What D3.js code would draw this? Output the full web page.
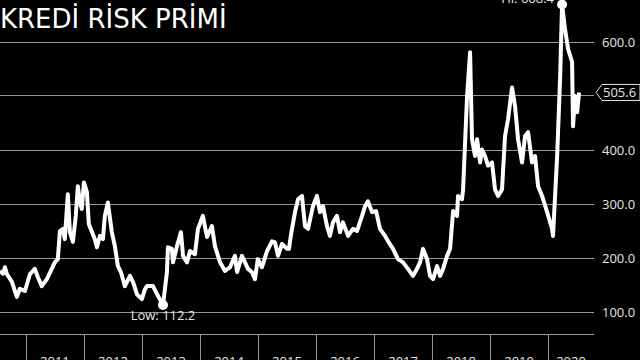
<!DOCTYPE html>
<html>
<head>
<meta charset="utf-8">
<script src="https://cdn.jsdelivr.net/npm/d3@7"></script>
<style>
  body { margin: 0; background: #000; }
  svg { display: block; }
</style>
</head>
<body>
<div id="chart"></div>
<script>
let title = "KREDİ RİSK PRİMİ"

let dates = [
  "2010-07-22", "2010-08-10", "2010-08-22", "2010-09-04", "2010-10-05", "2010-11-05", "2010-11-24", "2010-12-26",
  "2011-01-26", "2011-02-26", "2011-03-17", "2011-04-11", "2011-05-13", "2011-06-13", "2011-07-02", "2011-07-21",
  "2011-08-03", "2011-08-22", "2011-09-03", "2011-09-22", "2011-10-05", "2011-10-24", "2011-11-11", "2011-11-24",
  "2011-12-07", "2011-12-19", "2012-01-01", "2012-01-20", "2012-02-01", "2012-03-10", "2012-03-23", "2012-04-11",
  "2012-04-30", "2012-05-12", "2012-05-31", "2012-06-25", "2012-07-14", "2012-08-02", "2012-08-21", "2012-09-15",
  "2012-10-17", "2012-11-05", "2012-11-30", "2012-12-31", "2013-01-19", "2013-02-01", "2013-03-11", "2013-04-11",
  "2013-05-13", "2013-06-07", "2013-06-13", "2013-07-08", "2013-07-15", "2013-08-09", "2013-09-03", "2013-09-16",
  "2013-10-11", "2013-10-30", "2013-11-30", "2013-12-19", "2014-01-19", "2014-02-14", "2014-03-17", "2014-04-05",
  "2014-05-07", "2014-06-07", "2014-07-09", "2014-08-09", "2014-08-22", "2014-09-22", "2014-10-11", "2014-10-30",
  "2014-11-24", "2014-12-13", "2014-12-31", "2015-01-26", "2015-02-27", "2015-03-30", "2015-04-18", "2015-05-07",
  "2015-06-01", "2015-07-03", "2015-07-15", "2015-07-28", "2015-08-22", "2015-09-10", "2015-10-05", "2015-10-24",
  "2015-11-12", "2015-12-13", "2016-01-07", "2016-01-26", "2016-02-14", "2016-03-10", "2016-03-29", "2016-04-17",
  "2016-05-12", "2016-05-31", "2016-06-19", "2016-07-21", "2016-08-21", "2016-09-15", "2016-10-17", "2016-11-05",
  "2016-11-23", "2016-12-19", "2017-01-13", "2017-02-07", "2017-03-11", "2017-03-30", "2017-04-30", "2017-05-31",
  "2017-07-02", "2017-08-02", "2017-09-03", "2017-09-28", "2017-10-17", "2017-11-05", "2017-11-30", "2017-12-19",
  "2018-01-07", "2018-02-01", "2018-02-20", "2018-03-11", "2018-04-05", "2018-04-24", "2018-05-13", "2018-06-07",
  "2018-06-13", "2018-07-08", "2018-07-15", "2018-08-09", "2018-08-28", "2018-09-09", "2018-09-28", "2018-10-11",
  "2018-10-30", "2018-11-11", "2018-11-30", "2018-12-19", "2019-01-13", "2019-02-01", "2019-02-20", "2019-03-17",
  "2019-04-05", "2019-04-24", "2019-05-19", "2019-06-07", "2019-06-26", "2019-07-21", "2019-08-09", "2019-08-28",
  "2019-09-22", "2019-10-11", "2019-10-30", "2019-11-24", "2019-12-26", "2020-01-26", "2020-02-01", "2020-02-27",
  "2020-03-17", "2020-03-29", "2020-04-17", "2020-05-06", "2020-05-31", "2020-06-06", "2020-06-19", "2020-07-02",
  "2020-07-14"
]

let values = [
  175, 170, 182, 169, 155, 127, 142, 138,
  169, 179, 164, 147, 160, 179, 191, 197,
  249, 253, 234, 317, 247, 229, 277, 332,
  302, 290, 339, 321, 262, 234, 219, 240,
  234, 277, 302, 247, 221, 184, 173, 147,
  166, 155, 132, 123, 141, 147, 147, 129,
  112.2, 173, 219, 216, 191, 221, 247, 203,
  191, 212, 206, 253, 277, 238, 258, 221,
  191, 175, 182, 203, 173, 203, 191, 179,
  173, 160, 197, 182, 212, 230, 228, 203,
  225, 216, 216, 243, 284, 308, 314, 258,
  253, 295, 314, 284, 295, 258, 240, 265,
  277, 247, 265, 240, 253, 249, 277, 295,
  304, 284, 286, 253, 240, 230, 216, 197,
  191, 179, 166, 179, 191, 216, 197, 166,
  160, 184, 166, 179, 203, 216, 286, 277,
  314, 308, 326, 499, 580, 419, 388, 419,
  376, 400, 388, 370, 376, 326, 314, 326,
  425, 456, 515, 480, 419, 376, 425, 432,
  376, 388, 332, 314, 284, 253, 240, 388,
  536, 668.4, 622, 586, 562, 443, 499, 469,
  505.6
]

let yTicks = [100, 200, 300, 400, 500, 600]
let lowLabel = "Low: 112.2"
let highLabel = "Hi: 668.4"
let lastLabel = "505.6"

let width = 640
let height = 360

let parse = d3.timeParse("%Y-%m-%d")
let data = dates.map((d, i) => ({date: parse(d), value: values[i]}))

let svg = d3.select("#chart")
    .append("svg")
    .attr("width", width)
    .attr("height", height)
    .style("background", "#000")

let x = d3.scaleTime()
    .domain([parse("2010-07-22"), parse("2020-10-16")])
    .range([0, 594])

let y = d3.scaleLinear()
    .domain([100, 600])
    .range([311.5, 41.5])

// grid lines + right labels
svg.append("g")
    .selectAll("line")
    .data(yTicks)
    .enter()
    .append("line")
    .attr("x1", 0)
    .attr("x2", 594)
    .attr("y1", d => Math.round(y(d)) + 0.5)
    .attr("y2", d => Math.round(y(d)) + 0.5)
    .attr("stroke", "#9a9a9a")
    .attr("stroke-width", 1)

svg.append("g")
    .selectAll("text")
    .data(yTicks.filter(d => d !== 500))
    .enter()
    .append("text")
    .attr("x", 602)
    .attr("y", d => y(d) + 5)
    .attr("fill", "#e6e6e6")
    .style("font-family", "'Open Sans', sans-serif")
    .style("font-size", "13px")
    .text(d => d3.format(".1f")(d))

// bottom axis
let axisY = 334
svg.append("line")
    .attr("x1", 0).attr("x2", 594)
    .attr("y1", axisY + 0.5).attr("y2", axisY + 0.5)
    .attr("stroke", "#9a9a9a")

let years = d3.timeYear.range(parse("2011-01-01"), parse("2021-01-01"))
svg.append("g")
    .selectAll("line")
    .data(years)
    .enter()
    .append("line")
    .attr("x1", d => Math.round(x(d)) + 0.5)
    .attr("x2", d => Math.round(x(d)) + 0.5)
    .attr("y1", axisY)
    .attr("y2", height)
    .attr("stroke", "#9a9a9a")

// year labels sit half below the bottom edge, as in the source
svg.append("g")
    .selectAll("text")
    .data(years)
    .enter()
    .append("text")
    .attr("x", d => (x(d) + Math.min(x(d3.timeYear.offset(d, 1)), 594)) / 2)
    .attr("y", 366)
    .attr("text-anchor", "middle")
    .attr("fill", "#e6e6e6")
    .style("font-family", "'Open Sans', sans-serif")
    .style("font-size", "13px")
    .text(d => d.getFullYear())

// the series
let line = d3.line()
    .x(d => x(d.date))
    .y(d => y(d.value))

svg.append("path")
    .datum(data)
    .attr("d", line)
    .attr("fill", "none")
    .attr("stroke", "#fff")
    .attr("stroke-width", 4)
    .attr("stroke-linejoin", "round")

// low / high markers
let low = data.reduce((a, b) => b.value < a.value ? b : a)
let high = data.reduce((a, b) => b.value > a.value ? b : a)

svg.append("circle")
    .attr("cx", x(low.date)).attr("cy", y(low.value))
    .attr("r", 5).attr("fill", "#fff")
svg.append("text")
    .attr("x", x(low.date))
    .attr("y", 320)
    .attr("text-anchor", "middle")
    .attr("fill", "#e6e6e6")
    .style("font-family", "'Open Sans', sans-serif")
    .style("font-size", "13px")
    .text(lowLabel)

svg.append("circle")
    .attr("cx", x(high.date)).attr("cy", y(high.value))
    .attr("r", 5).attr("fill", "#fff")
svg.append("text")
    .attr("x", x(high.date) - 8)
    .attr("y", 3)
    .attr("text-anchor", "end")
    .attr("fill", "#e6e6e6")
    .style("font-family", "'Open Sans', sans-serif")
    .style("font-size", "13px")
    .text(highLabel)

// last value tag
let last = data[data.length - 1]
let ty = y(last.value)
svg.append("path")
    .attr("d", "M596," + ty + " L602," + (ty - 8) + " L640," + (ty - 8) + " L640," + (ty + 8) + " L602," + (ty + 8) + " Z")
    .attr("fill", "#000")
    .attr("stroke", "#e6e6e6")
svg.append("text")
    .attr("x", 603)
    .attr("y", ty + 5)
    .attr("fill", "#e6e6e6")
    .style("font-family", "'Open Sans', sans-serif")
    .style("font-size", "13px")
    .text(lastLabel)

// title
svg.append("text")
    .attr("x", 0)
    .attr("y", 28)
    .attr("fill", "#fff")
    .style("font-family", "'DejaVu Sans', sans-serif")
    .style("font-size", "26px")
    .text(title)
</script>
</body>
</html>
